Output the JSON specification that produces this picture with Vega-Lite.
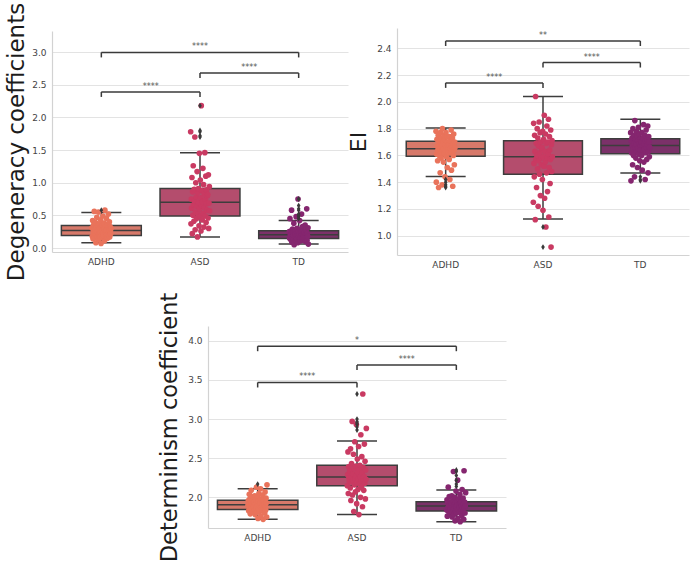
{
"$schema": "https://vega.github.io/schema/vega-lite/v6.json",
"background": "white",
"padding": {"left": 5, "top": 2, "right": 5, "bottom": 5},
"config": {
  "view": {"stroke": null},
  "font": "DejaVu Sans",
  "axis": {"labelFont": "DejaVu Sans", "titleFont": "DejaVu Sans", "labelColor": "#444444", "labelFontSize": 9, "labelOverlap": false, "ticks": false, "domainColor": "#d2d2d2", "domainWidth": 1.2, "gridColor": "#e3e3e3", "gridWidth": 1.2, "titleFontWeight": "normal", "titleColor": "#1c1c1c", "titleFontSize": 22},
  "axisX": {"grid": false, "labelAngle": 0, "labelPadding": 5},
  "axisY": {"labelPadding": 6, "titlePadding": 6}
},
"datasets": {
  "box": [
    {"p": "deg", "g": "ADHD", "lo": 0.08, "q1": 0.19, "med": 0.27, "q3": 0.345, "hi": 0.545},
    {"p": "deg", "g": "ASD", "lo": 0.17, "q1": 0.49, "med": 0.70, "q3": 0.91, "hi": 1.46},
    {"p": "deg", "g": "TD", "lo": 0.06, "q1": 0.147, "med": 0.205, "q3": 0.265, "hi": 0.42},
    {"p": "ei", "g": "ADHD", "lo": 1.443, "q1": 1.593, "med": 1.65, "q3": 1.705, "hi": 1.805},
    {"p": "ei", "g": "ASD", "lo": 1.125, "q1": 1.46, "med": 1.59, "q3": 1.71, "hi": 2.04},
    {"p": "ei", "g": "TD", "lo": 1.468, "q1": 1.613, "med": 1.675, "q3": 1.725, "hi": 1.87},
    {"p": "det", "g": "ADHD", "lo": 1.722, "q1": 1.846, "med": 1.906, "q3": 1.962, "hi": 2.11},
    {"p": "det", "g": "ASD", "lo": 1.78, "q1": 2.15, "med": 2.26, "q3": 2.41, "hi": 2.72},
    {"p": "det", "g": "TD", "lo": 1.69, "q1": 1.825, "med": 1.89, "q3": 1.945, "hi": 2.095}
  ],
  "out": [
    {"p": "deg", "g": "ADHD", "v": 0.58},
    {"p": "deg", "g": "ASD", "v": 1.70}, {"p": "deg", "g": "ASD", "v": 1.72}, {"p": "deg", "g": "ASD", "v": 1.78}, {"p": "deg", "g": "ASD", "v": 1.80}, {"p": "deg", "g": "ASD", "v": 2.18},
    {"p": "deg", "g": "TD", "v": 0.45}, {"p": "deg", "g": "TD", "v": 0.48}, {"p": "deg", "g": "TD", "v": 0.50}, {"p": "deg", "g": "TD", "v": 0.52}, {"p": "deg", "g": "TD", "v": 0.58}, {"p": "deg", "g": "TD", "v": 0.60}, {"p": "deg", "g": "TD", "v": 0.65}, {"p": "deg", "g": "TD", "v": 0.75},
    {"p": "ei", "g": "ADHD", "v": 1.36}, {"p": "ei", "g": "ADHD", "v": 1.37}, {"p": "ei", "g": "ADHD", "v": 1.38}, {"p": "ei", "g": "ADHD", "v": 1.40}, {"p": "ei", "g": "ADHD", "v": 1.42},
    {"p": "ei", "g": "ASD", "v": 1.065}, {"p": "ei", "g": "ASD", "v": 0.915},
    {"p": "ei", "g": "TD", "v": 1.41}, {"p": "ei", "g": "TD", "v": 1.42}, {"p": "ei", "g": "TD", "v": 1.44},
    {"p": "det", "g": "ADHD", "v": 2.17},
    {"p": "det", "g": "ASD", "v": 2.86}, {"p": "det", "g": "ASD", "v": 2.90}, {"p": "det", "g": "ASD", "v": 2.93}, {"p": "det", "g": "ASD", "v": 2.95}, {"p": "det", "g": "ASD", "v": 2.97}, {"p": "det", "g": "ASD", "v": 3.00}, {"p": "det", "g": "ASD", "v": 3.32},
    {"p": "det", "g": "TD", "v": 2.14}, {"p": "det", "g": "TD", "v": 2.17}, {"p": "det", "g": "TD", "v": 2.22}, {"p": "det", "g": "TD", "v": 2.28}, {"p": "det", "g": "TD", "v": 2.33}, {"p": "det", "g": "TD", "v": 2.35}
  ],
  "sig": [
    {"p": "deg", "g1": "ADHD", "g2": "ASD", "mid": "ASD", "adj": true, "y": 2.39, "t": "****"},
    {"p": "deg", "g1": "ASD", "g2": "TD", "mid": "TD", "adj": true, "y": 2.68, "t": "****"},
    {"p": "deg", "g1": "ADHD", "g2": "TD", "mid": "ASD", "adj": false, "y": 2.995, "t": "****"},
    {"p": "ei", "g1": "ADHD", "g2": "ASD", "mid": "ASD", "adj": true, "y": 2.142, "t": "****"},
    {"p": "ei", "g1": "ASD", "g2": "TD", "mid": "TD", "adj": true, "y": 2.294, "t": "****"},
    {"p": "ei", "g1": "ADHD", "g2": "TD", "mid": "ASD", "adj": false, "y": 2.455, "t": "**"},
    {"p": "det", "g1": "ADHD", "g2": "ASD", "mid": "ASD", "adj": true, "y": 3.467, "t": "****"},
    {"p": "det", "g1": "ASD", "g2": "TD", "mid": "TD", "adj": true, "y": 3.69, "t": "****"},
    {"p": "det", "g1": "ADHD", "g2": "TD", "mid": "ASD", "adj": false, "y": 3.93, "t": "*"}
  ],
  "pts": [
    {"g":"ADHD","i":0,"d":0.31,"e":1.78,"m":1.90},{"g":"ADHD","i":1,"d":0.18,"e":1.40,"m":1.96},{"g":"ADHD","i":2,"d":0.42,"e":1.61,"m":1.83},{"g":"ADHD","i":3,"d":0.14,"e":1.72,"m":1.91},{"g":"ADHD","i":4,"d":0.26,"e":1.67,"m":2.04},
    {"g":"ADHD","i":5,"d":0.35,"e":1.56,"m":1.86},{"g":"ADHD","i":6,"d":0.22,"e":1.64,"m":1.98},{"g":"ADHD","i":7,"d":0.56,"e":1.75,"m":1.79},{"g":"ADHD","i":8,"d":0.16,"e":1.36,"m":1.95},{"g":"ADHD","i":9,"d":0.29,"e":1.69,"m":1.89},
    {"g":"ADHD","i":10,"d":0.23,"e":1.60,"m":2.09},{"g":"ADHD","i":11,"d":0.39,"e":1.71,"m":1.85},{"g":"ADHD","i":12,"d":0.08,"e":1.65,"m":1.92},{"g":"ADHD","i":13,"d":0.32,"e":1.47,"m":2.01},{"g":"ADHD","i":14,"d":0.20,"e":1.77,"m":1.82},
    {"g":"ADHD","i":15,"d":0.47,"e":1.63,"m":1.96},{"g":"ADHD","i":16,"d":0.25,"e":1.58,"m":1.90},{"g":"ADHD","i":17,"d":0.17,"e":1.73,"m":1.88},{"g":"ADHD","i":18,"d":0.34,"e":1.67,"m":1.94},{"g":"ADHD","i":19,"d":0.28,"e":1.38,"m":1.94},
    {"g":"ADHD","i":20,"d":0.55,"e":1.80,"m":1.84},{"g":"ADHD","i":21,"d":0.13,"e":1.64,"m":2.02},{"g":"ADHD","i":22,"d":0.21,"e":1.70,"m":1.78},{"g":"ADHD","i":23,"d":0.37,"e":1.55,"m":1.91},{"g":"ADHD","i":24,"d":0.30,"e":1.65,"m":1.97},
    {"g":"ADHD","i":25,"d":0.18,"e":1.75,"m":1.87},{"g":"ADHD","i":26,"d":0.24,"e":1.61,"m":2.13},{"g":"ADHD","i":27,"d":0.43,"e":1.72,"m":1.81},{"g":"ADHD","i":28,"d":0.07,"e":1.44,"m":1.93},{"g":"ADHD","i":29,"d":0.32,"e":1.68,"m":1.89},
    {"g":"ADHD","i":30,"d":0.20,"e":1.63,"m":2.00},{"g":"ADHD","i":31,"d":0.34,"e":1.77,"m":1.73},{"g":"ADHD","i":32,"d":0.27,"e":1.59,"m":1.95},{"g":"ADHD","i":33,"d":0.16,"e":1.66,"m":1.85},{"g":"ADHD","i":34,"d":0.49,"e":1.74,"m":2.05},
    {"g":"ADHD","i":35,"d":0.23,"e":1.51,"m":1.90},{"g":"ADHD","i":36,"d":0.19,"e":1.70,"m":1.82},{"g":"ADHD","i":37,"d":0.38,"e":1.65,"m":1.96},{"g":"ADHD","i":38,"d":0.29,"e":1.62,"m":1.92},{"g":"ADHD","i":39,"d":0.11,"e":1.68,"m":2.11},
    {"g":"ADHD","i":40,"d":0.58,"e":1.68,"m":1.76},{"g":"ADHD","i":41,"d":0.25,"e":1.57,"m":1.87},{"g":"ADHD","i":42,"d":0.33,"e":1.74,"m":1.98},{"g":"ADHD","i":43,"d":0.18,"e":1.42,"m":1.93},{"g":"ADHD","i":44,"d":0.27,"e":1.65,"m":1.83},
    {"g":"ADHD","i":45,"d":0.45,"e":1.71,"m":1.89},{"g":"ADHD","i":46,"d":0.21,"e":1.62,"m":2.03},{"g":"ADHD","i":47,"d":0.36,"e":1.79,"m":1.72},{"g":"ADHD","i":48,"d":0.15,"e":1.49,"m":1.95},{"g":"ADHD","i":49,"d":0.31,"e":1.67,"m":1.86},
    {"g":"ADHD","i":50,"d":0.24,"e":1.63,"m":1.97},{"g":"ADHD","i":51,"d":0.52,"e":1.73,"m":1.91},{"g":"ADHD","i":52,"d":0.19,"e":1.37,"m":1.80},{"g":"ADHD","i":53,"d":0.28,"e":1.69,"m":2.07},{"g":"ADHD","i":54,"d":0.40,"e":1.60,"m":1.88},
    {"g":"ADHD","i":55,"d":0.17,"e":1.76,"m":1.84},{"g":"ADHD","i":56,"d":0.33,"e":1.64,"m":1.99},{"g":"ADHD","i":57,"d":0.26,"e":1.53,"m":1.93},{"g":"ADHD","i":58,"d":0.22,"e":1.70,"m":1.75},{"g":"ADHD","i":59,"d":0.30,"e":1.66,"m":2.16},
    {"g":"ASD","i":0,"d":1.78,"e":1.25,"m":2.15},{"g":"ASD","i":1,"d":0.37,"e":1.84,"m":2.29},{"g":"ASD","i":2,"d":0.75,"e":1.54,"m":2.58},{"g":"ASD","i":3,"d":0.61,"e":1.44,"m":2.05},{"g":"ASD","i":4,"d":1.08,"e":1.75,"m":2.39},
    {"g":"ASD","i":5,"d":0.22,"e":1.63,"m":2.25},{"g":"ASD","i":6,"d":0.86,"e":1.12,"m":2.21},{"g":"ASD","i":7,"d":0.50,"e":2.04,"m":2.33},{"g":"ASD","i":8,"d":1.26,"e":1.57,"m":2.34},{"g":"ASD","i":9,"d":0.66,"e":1.69,"m":2.12},
    {"g":"ASD","i":10,"d":0.41,"e":1.36,"m":2.62},{"g":"ASD","i":11,"d":0.90,"e":1.60,"m":1.96},{"g":"ASD","i":12,"d":0.72,"e":1.80,"m":2.25},{"g":"ASD","i":13,"d":1.70,"e":1.50,"m":2.43},{"g":"ASD","i":14,"d":0.28,"e":1.73,"m":2.20},
    {"g":"ASD","i":15,"d":0.55,"e":1.22,"m":2.97},{"g":"ASD","i":16,"d":1.00,"e":1.67,"m":2.03},{"g":"ASD","i":17,"d":0.78,"e":1.56,"m":2.30},{"g":"ASD","i":18,"d":0.45,"e":1.85,"m":2.22},{"g":"ASD","i":19,"d":0.64,"e":1.46,"m":2.55},
    {"g":"ASD","i":20,"d":1.17,"e":1.62,"m":1.82},{"g":"ASD","i":21,"d":0.17,"e":1.77,"m":2.37},{"g":"ASD","i":22,"d":0.85,"e":1.30,"m":2.16},{"g":"ASD","i":23,"d":0.52,"e":1.70,"m":2.71},{"g":"ASD","i":24,"d":0.91,"e":1.58,"m":2.24},
    {"g":"ASD","i":25,"d":0.70,"e":1.53,"m":2.07},{"g":"ASD","i":26,"d":0.34,"e":1.65,"m":2.40},{"g":"ASD","i":27,"d":1.45,"e":1.66,"m":2.28},{"g":"ASD","i":28,"d":0.60,"e":1.42,"m":2.93},{"g":"ASD","i":29,"d":0.48,"e":1.78,"m":1.92},
    {"g":"ASD","i":30,"d":1.04,"e":1.19,"m":2.19},{"g":"ASD","i":31,"d":0.77,"e":1.59,"m":2.49},{"g":"ASD","i":32,"d":0.26,"e":1.72,"m":2.32},{"g":"ASD","i":33,"d":2.18,"e":1.52,"m":2.10},{"g":"ASD","i":34,"d":0.65,"e":1.90,"m":2.23},
    {"g":"ASD","i":35,"d":0.88,"e":1.28,"m":2.65},{"g":"ASD","i":36,"d":0.43,"e":1.63,"m":1.78},{"g":"ASD","i":37,"d":0.71,"e":1.55,"m":2.36},{"g":"ASD","i":38,"d":1.22,"e":1.76,"m":2.17},{"g":"ASD","i":39,"d":0.53,"e":1.065,"m":2.41},
    {"g":"ASD","i":40,"d":0.97,"e":1.69,"m":2.26},{"g":"ASD","i":41,"d":0.32,"e":1.47,"m":2.00},{"g":"ASD","i":42,"d":0.83,"e":1.82,"m":2.80},{"g":"ASD","i":43,"d":0.62,"e":1.58,"m":2.21},{"g":"ASD","i":44,"d":1.46,"e":1.33,"m":2.13},
    {"g":"ASD","i":45,"d":0.49,"e":1.70,"m":2.52},{"g":"ASD","i":46,"d":0.74,"e":1.61,"m":2.31},{"g":"ASD","i":47,"d":1.10,"e":1.87,"m":1.88},{"g":"ASD","i":48,"d":0.39,"e":1.14,"m":3.32},{"g":"ASD","i":49,"d":0.89,"e":1.51,"m":2.24},
    {"g":"ASD","i":50,"d":0.68,"e":1.74,"m":2.38},{"g":"ASD","i":51,"d":0.58,"e":1.64,"m":2.09},{"g":"ASD","i":52,"d":0.80,"e":1.39,"m":2.27},{"g":"ASD","i":53,"d":0.82,"e":1.57,"m":2.68},{"g":"ASD","i":54,"d":0.46,"e":1.79,"m":2.18},
    {"g":"ASD","i":55,"d":1.12,"e":0.915,"m":2.46},{"g":"ASD","i":56,"d":0.30,"e":1.68,"m":1.98},{"g":"ASD","i":57,"d":0.69,"e":1.48,"m":2.35},{"g":"ASD","i":58,"d":0.94,"e":1.71,"m":2.23},{"g":"ASD","i":59,"d":0.57,"e":1.59,"m":2.88},
    {"g":"TD","i":0,"d":0.25,"e":1.77,"m":1.84},{"g":"TD","i":1,"d":0.15,"e":1.41,"m":1.97},{"g":"TD","i":2,"d":0.45,"e":1.71,"m":1.76},{"g":"TD","i":3,"d":0.20,"e":1.62,"m":1.93},{"g":"TD","i":4,"d":0.13,"e":1.73,"m":1.87},
    {"g":"TD","i":5,"d":0.26,"e":1.67,"m":2.13},{"g":"TD","i":6,"d":0.21,"e":1.53,"m":1.82},{"g":"TD","i":7,"d":0.58,"e":1.80,"m":1.90},{"g":"TD","i":8,"d":0.09,"e":1.65,"m":2.01},{"g":"TD","i":9,"d":0.17,"e":1.60,"m":1.79},
    {"g":"TD","i":10,"d":0.29,"e":1.75,"m":1.94},{"g":"TD","i":11,"d":0.23,"e":1.69,"m":1.88},{"g":"TD","i":12,"d":0.14,"e":1.44,"m":1.85},{"g":"TD","i":13,"d":0.19,"e":1.86,"m":1.92},{"g":"TD","i":14,"d":0.38,"e":1.66,"m":1.92},
    {"g":"TD","i":15,"d":0.05,"e":1.72,"m":1.81},{"g":"TD","i":16,"d":0.24,"e":1.58,"m":2.02},{"g":"TD","i":17,"d":0.16,"e":1.68,"m":1.75},{"g":"TD","i":18,"d":0.27,"e":1.78,"m":1.88},{"g":"TD","i":19,"d":0.21,"e":1.63,"m":1.96},
    {"g":"TD","i":20,"d":0.11,"e":1.74,"m":1.85},{"g":"TD","i":21,"d":0.48,"e":1.51,"m":2.33},{"g":"TD","i":22,"d":0.18,"e":1.71,"m":1.78},{"g":"TD","i":23,"d":0.14,"e":1.65,"m":1.90},{"g":"TD","i":24,"d":0.30,"e":1.81,"m":1.86},
    {"g":"TD","i":25,"d":0.22,"e":1.61,"m":2.00},{"g":"TD","i":26,"d":0.08,"e":1.69,"m":1.70},{"g":"TD","i":27,"d":0.75,"e":1.76,"m":1.93},{"g":"TD","i":28,"d":0.19,"e":1.56,"m":1.83},{"g":"TD","i":29,"d":0.25,"e":1.72,"m":2.08},
    {"g":"TD","i":30,"d":0.13,"e":1.67,"m":1.88},{"g":"TD","i":31,"d":0.21,"e":1.64,"m":1.80},{"g":"TD","i":32,"d":0.42,"e":1.70,"m":1.95},{"g":"TD","i":33,"d":0.16,"e":1.70,"m":1.90},{"g":"TD","i":34,"d":0.28,"e":1.60,"m":2.22},
    {"g":"TD","i":35,"d":0.11,"e":1.77,"m":1.73},{"g":"TD","i":36,"d":0.24,"e":1.49,"m":1.84},{"g":"TD","i":37,"d":0.19,"e":1.67,"m":1.98},{"g":"TD","i":38,"d":0.52,"e":1.73,"m":1.91},{"g":"TD","i":39,"d":0.15,"e":1.64,"m":1.81},
    {"g":"TD","i":40,"d":0.22,"e":1.83,"m":1.87},{"g":"TD","i":41,"d":0.33,"e":1.55,"m":2.04},{"g":"TD","i":42,"d":0.12,"e":1.69,"m":1.69},{"g":"TD","i":43,"d":0.26,"e":1.65,"m":1.93},{"g":"TD","i":44,"d":0.20,"e":1.75,"m":1.83},
    {"g":"TD","i":45,"d":0.17,"e":1.42,"m":1.95},{"g":"TD","i":46,"d":0.23,"e":1.71,"m":1.89},{"g":"TD","i":47,"d":0.24,"e":1.62,"m":1.77},{"g":"TD","i":48,"d":0.14,"e":1.79,"m":2.10},{"g":"TD","i":49,"d":0.35,"e":1.66,"m":1.86},
    {"g":"TD","i":50,"d":0.10,"e":1.57,"m":1.82},{"g":"TD","i":51,"d":0.20,"e":1.72,"m":1.99},{"g":"TD","i":52,"d":0.27,"e":1.68,"m":1.91},{"g":"TD","i":53,"d":0.17,"e":1.82,"m":1.72},{"g":"TD","i":54,"d":0.60,"e":1.47,"m":2.34},
    {"g":"TD","i":55,"d":0.12,"e":1.63,"m":1.87},{"g":"TD","i":56,"d":0.22,"e":1.74,"m":1.94},{"g":"TD","i":57,"d":0.18,"e":1.70,"m":1.80},{"g":"TD","i":58,"d":0.31,"e":1.59,"m":1.89},{"g":"TD","i":59,"d":0.06,"e":1.66,"m":2.06}
  ]
},
"spacing": 11,
"vconcat": [
 {"bounds": "flush", "spacing": 49, "center": true, "hconcat": [
  {"width": 296, "height": 221, "resolve": {"scale": {"xOffset": "independent"}}, "layer": [
   {"data": {"name": "box"}, "transform": [{"filter": "datum.p === 'deg'"}], "mark": {"type": "rule", "color": "#3d3d3d", "strokeWidth": 1.5},
    "encoding": {"x": {"field": "g", "type": "nominal", "scale": {"domain": ["ADHD", "ASD", "TD"], "paddingInner": 0, "paddingOuter": 0}, "axis": {"title": null, "labelAngle": 0}},
      "y": {"field": "lo", "type": "quantitative", "scale": {"domain": [-0.061, 3.323], "nice": false, "zero": false}, "axis": {"title": "Degeneracy coefficients", "titleFontSize": 23, "titlePadding": 3, "values": [0, 0.5, 1, 1.5, 2, 2.5, 3], "format": ".1f"}},
      "y2": {"field": "hi"}}},
   {"data": {"name": "box"}, "transform": [{"filter": "datum.p === 'deg'"}], "mark": {"type": "bar", "width": {"band": 0.81}, "stroke": "#3d3d3d", "strokeWidth": 1.5},
    "encoding": {"x": {"field": "g", "type": "nominal"}, "y": {"field": "q1", "type": "quantitative", "axis": {"title": "Degeneracy coefficients", "titleFontSize": 23, "titlePadding": 3, "values": [0, 0.5, 1, 1.5, 2, 2.5, 3], "format": ".1f"}}, "y2": {"field": "q3"},
      "fill": {"field": "g", "type": "nominal", "scale": {"domain": ["ADHD", "ASD", "TD"], "range": ["#d7796a", "#b44d6d", "#7b3169"]}, "legend": null}}},
   {"data": {"name": "box"}, "transform": [{"filter": "datum.p === 'deg'"}], "mark": {"type": "tick", "size": 80, "thickness": 1.5, "color": "#3d3d3d", "opacity": 1},
    "encoding": {"x": {"field": "g", "type": "nominal"}, "y": {"field": "med", "type": "quantitative", "axis": {"title": "Degeneracy coefficients", "titleFontSize": 23, "titlePadding": 3, "values": [0, 0.5, 1, 1.5, 2, 2.5, 3], "format": ".1f"}}}},
   {"data": {"name": "box"}, "transform": [{"filter": "datum.p === 'deg'"}], "mark": {"type": "tick", "size": 40, "thickness": 1.5, "color": "#3d3d3d", "opacity": 1},
    "encoding": {"x": {"field": "g", "type": "nominal"}, "y": {"field": "lo", "type": "quantitative", "axis": {"title": "Degeneracy coefficients", "titleFontSize": 23, "titlePadding": 3, "values": [0, 0.5, 1, 1.5, 2, 2.5, 3], "format": ".1f"}}}},
   {"data": {"name": "box"}, "transform": [{"filter": "datum.p === 'deg'"}], "mark": {"type": "tick", "size": 40, "thickness": 1.5, "color": "#3d3d3d", "opacity": 1},
    "encoding": {"x": {"field": "g", "type": "nominal"}, "y": {"field": "hi", "type": "quantitative", "axis": {"title": "Degeneracy coefficients", "titleFontSize": 23, "titlePadding": 3, "values": [0, 0.5, 1, 1.5, 2, 2.5, 3], "format": ".1f"}}}},
   {"data": {"name": "pts"}, "mark": {"type": "circle", "size": 32, "opacity": 1},
    "encoding": {"x": {"field": "g", "type": "nominal"}, "xOffset": {"field": "i", "type": "quantitative", "scale": {"domain": [0, 59], "range": [40, 59]}},
      "y": {"field": "d", "type": "quantitative", "axis": {"title": "Degeneracy coefficients", "titleFontSize": 23, "titlePadding": 3, "values": [0, 0.5, 1, 1.5, 2, 2.5, 3], "format": ".1f"}},
      "color": {"field": "g", "type": "nominal", "scale": {"domain": ["ADHD", "ASD", "TD"], "range": ["#e9735b", "#c93a62", "#85266f"]}, "legend": null}}},
   {"data": {"name": "out"}, "transform": [{"filter": "datum.p === 'deg'"}], "mark": {"type": "point", "shape": "M0,-1L0.62,0L0,1L-0.62,0Z", "filled": true, "size": 34, "color": "#3a3a3a", "opacity": 1},
    "encoding": {"x": {"field": "g", "type": "nominal"}, "y": {"field": "v", "type": "quantitative", "axis": {"title": "Degeneracy coefficients", "titleFontSize": 23, "titlePadding": 3, "values": [0, 0.5, 1, 1.5, 2, 2.5, 3], "format": ".1f"}}}},
   {"data": {"name": "sig"}, "transform": [{"filter": "datum.p === 'deg'"}], "mark": {"type": "rule", "color": "#3a3a3a", "strokeWidth": 1.5},
    "encoding": {"x": {"field": "g1", "type": "nominal"}, "x2": {"field": "g2"}, "y": {"field": "y", "type": "quantitative", "axis": {"title": "Degeneracy coefficients", "titleFontSize": 23, "titlePadding": 3, "values": [0, 0.5, 1, 1.5, 2, 2.5, 3], "format": ".1f"}}}},
   {"data": {"name": "sig"}, "transform": [{"filter": "datum.p === 'deg'"}], "mark": {"type": "tick", "orient": "vertical", "size": 5, "thickness": 1.5, "yOffset": 2.5, "color": "#3a3a3a", "opacity": 1},
    "encoding": {"x": {"field": "g1", "type": "nominal"}, "y": {"field": "y", "type": "quantitative", "axis": {"title": "Degeneracy coefficients", "titleFontSize": 23, "titlePadding": 3, "values": [0, 0.5, 1, 1.5, 2, 2.5, 3], "format": ".1f"}}}},
   {"data": {"name": "sig"}, "transform": [{"filter": "datum.p === 'deg'"}], "mark": {"type": "tick", "orient": "vertical", "size": 5, "thickness": 1.5, "yOffset": 2.5, "color": "#3a3a3a", "opacity": 1},
    "encoding": {"x": {"field": "g2", "type": "nominal"}, "y": {"field": "y", "type": "quantitative", "axis": {"title": "Degeneracy coefficients", "titleFontSize": 23, "titlePadding": 3, "values": [0, 0.5, 1, 1.5, 2, 2.5, 3], "format": ".1f"}}}},
   {"data": {"name": "sig"}, "transform": [{"filter": "datum.p === 'deg' && datum.adj"}], "mark": {"type": "text", "fontSize": 8, "color": "#555555", "baseline": "middle", "dy": -5},
    "encoding": {"x": {"field": "mid", "type": "nominal", "bandPosition": 0}, "y": {"field": "y", "type": "quantitative", "axis": {"title": "Degeneracy coefficients", "titleFontSize": 23, "titlePadding": 3, "values": [0, 0.5, 1, 1.5, 2, 2.5, 3], "format": ".1f"}}, "text": {"field": "t"}}},
   {"data": {"name": "sig"}, "transform": [{"filter": "datum.p === 'deg' && !datum.adj"}], "mark": {"type": "text", "fontSize": 8, "color": "#555555", "baseline": "middle", "dy": -5},
    "encoding": {"x": {"field": "mid", "type": "nominal"}, "y": {"field": "y", "type": "quantitative", "axis": {"title": "Degeneracy coefficients", "titleFontSize": 23, "titlePadding": 3, "values": [0, 0.5, 1, 1.5, 2, 2.5, 3], "format": ".1f"}}, "text": {"field": "t"}}}
  ]},
  {"width": 292, "height": 227, "resolve": {"scale": {"xOffset": "independent"}}, "layer": [
   {"data": {"name": "box"}, "transform": [{"filter": "datum.p === 'ei'"}], "mark": {"type": "rule", "color": "#3d3d3d", "strokeWidth": 1.5},
    "encoding": {"x": {"field": "g", "type": "nominal", "scale": {"domain": ["ADHD", "ASD", "TD"], "paddingInner": 0, "paddingOuter": 0}, "axis": {"title": null, "labelAngle": 0}},
      "y": {"field": "lo", "type": "quantitative", "scale": {"domain": [0.856, 2.552], "nice": false, "zero": false}, "axis": {"title": "EI", "values": [1.0, 1.2, 1.4, 1.6, 1.8, 2.0, 2.2, 2.4], "format": ".1f"}},
      "y2": {"field": "hi"}}},
   {"data": {"name": "box"}, "transform": [{"filter": "datum.p === 'ei'"}], "mark": {"type": "bar", "width": {"band": 0.81}, "stroke": "#3d3d3d", "strokeWidth": 1.5},
    "encoding": {"x": {"field": "g", "type": "nominal"}, "y": {"field": "q1", "type": "quantitative", "axis": {"title": "EI", "values": [1.0, 1.2, 1.4, 1.6, 1.8, 2.0, 2.2, 2.4], "format": ".1f"}}, "y2": {"field": "q3"},
      "fill": {"field": "g", "type": "nominal", "scale": {"domain": ["ADHD", "ASD", "TD"], "range": ["#d7796a", "#b44d6d", "#7b3169"]}, "legend": null}}},
   {"data": {"name": "box"}, "transform": [{"filter": "datum.p === 'ei'"}], "mark": {"type": "tick", "size": 79, "thickness": 1.5, "color": "#3d3d3d", "opacity": 1},
    "encoding": {"x": {"field": "g", "type": "nominal"}, "y": {"field": "med", "type": "quantitative", "axis": {"title": "EI", "values": [1.0, 1.2, 1.4, 1.6, 1.8, 2.0, 2.2, 2.4], "format": ".1f"}}}},
   {"data": {"name": "box"}, "transform": [{"filter": "datum.p === 'ei'"}], "mark": {"type": "tick", "size": 40, "thickness": 1.5, "color": "#3d3d3d", "opacity": 1},
    "encoding": {"x": {"field": "g", "type": "nominal"}, "y": {"field": "lo", "type": "quantitative", "axis": {"title": "EI", "values": [1.0, 1.2, 1.4, 1.6, 1.8, 2.0, 2.2, 2.4], "format": ".1f"}}}},
   {"data": {"name": "box"}, "transform": [{"filter": "datum.p === 'ei'"}], "mark": {"type": "tick", "size": 40, "thickness": 1.5, "color": "#3d3d3d", "opacity": 1},
    "encoding": {"x": {"field": "g", "type": "nominal"}, "y": {"field": "hi", "type": "quantitative", "axis": {"title": "EI", "values": [1.0, 1.2, 1.4, 1.6, 1.8, 2.0, 2.2, 2.4], "format": ".1f"}}}},
   {"data": {"name": "pts"}, "mark": {"type": "circle", "size": 32, "opacity": 1},
    "encoding": {"x": {"field": "g", "type": "nominal"}, "xOffset": {"field": "i", "type": "quantitative", "scale": {"domain": [0, 59], "range": [39, 58]}},
      "y": {"field": "e", "type": "quantitative", "axis": {"title": "EI", "values": [1.0, 1.2, 1.4, 1.6, 1.8, 2.0, 2.2, 2.4], "format": ".1f"}},
      "color": {"field": "g", "type": "nominal", "scale": {"domain": ["ADHD", "ASD", "TD"], "range": ["#e9735b", "#c93a62", "#85266f"]}, "legend": null}}},
   {"data": {"name": "out"}, "transform": [{"filter": "datum.p === 'ei'"}], "mark": {"type": "point", "shape": "M0,-1L0.62,0L0,1L-0.62,0Z", "filled": true, "size": 34, "color": "#3a3a3a", "opacity": 1},
    "encoding": {"x": {"field": "g", "type": "nominal"}, "y": {"field": "v", "type": "quantitative", "axis": {"title": "EI", "values": [1.0, 1.2, 1.4, 1.6, 1.8, 2.0, 2.2, 2.4], "format": ".1f"}}}},
   {"data": {"name": "sig"}, "transform": [{"filter": "datum.p === 'ei'"}], "mark": {"type": "rule", "color": "#3a3a3a", "strokeWidth": 1.5},
    "encoding": {"x": {"field": "g1", "type": "nominal"}, "x2": {"field": "g2"}, "y": {"field": "y", "type": "quantitative", "axis": {"title": "EI", "values": [1.0, 1.2, 1.4, 1.6, 1.8, 2.0, 2.2, 2.4], "format": ".1f"}}}},
   {"data": {"name": "sig"}, "transform": [{"filter": "datum.p === 'ei'"}], "mark": {"type": "tick", "orient": "vertical", "size": 5, "thickness": 1.5, "yOffset": 2.5, "color": "#3a3a3a", "opacity": 1},
    "encoding": {"x": {"field": "g1", "type": "nominal"}, "y": {"field": "y", "type": "quantitative", "axis": {"title": "EI", "values": [1.0, 1.2, 1.4, 1.6, 1.8, 2.0, 2.2, 2.4], "format": ".1f"}}}},
   {"data": {"name": "sig"}, "transform": [{"filter": "datum.p === 'ei'"}], "mark": {"type": "tick", "orient": "vertical", "size": 5, "thickness": 1.5, "yOffset": 2.5, "color": "#3a3a3a", "opacity": 1},
    "encoding": {"x": {"field": "g2", "type": "nominal"}, "y": {"field": "y", "type": "quantitative", "axis": {"title": "EI", "values": [1.0, 1.2, 1.4, 1.6, 1.8, 2.0, 2.2, 2.4], "format": ".1f"}}}},
   {"data": {"name": "sig"}, "transform": [{"filter": "datum.p === 'ei' && datum.adj"}], "mark": {"type": "text", "fontSize": 8, "color": "#555555", "baseline": "middle", "dy": -5},
    "encoding": {"x": {"field": "mid", "type": "nominal", "bandPosition": 0}, "y": {"field": "y", "type": "quantitative", "axis": {"title": "EI", "values": [1.0, 1.2, 1.4, 1.6, 1.8, 2.0, 2.2, 2.4], "format": ".1f"}}, "text": {"field": "t"}}},
   {"data": {"name": "sig"}, "transform": [{"filter": "datum.p === 'ei' && !datum.adj"}], "mark": {"type": "text", "fontSize": 8, "color": "#555555", "baseline": "middle", "dy": -5},
    "encoding": {"x": {"field": "mid", "type": "nominal"}, "y": {"field": "y", "type": "quantitative", "axis": {"title": "EI", "values": [1.0, 1.2, 1.4, 1.6, 1.8, 2.0, 2.2, 2.4], "format": ".1f"}}, "text": {"field": "t"}}}
  ]}
 ]},
 {"bounds": "flush", "spacing": 10, "hconcat": [
  {"width": 146, "height": 10, "data": {"values": []}, "mark": "point", "encoding": {}},
  {"width": 298, "height": 202, "resolve": {"scale": {"xOffset": "independent"}}, "layer": [
   {"data": {"name": "box"}, "transform": [{"filter": "datum.p === 'det'"}], "mark": {"type": "rule", "color": "#3d3d3d", "strokeWidth": 1.5},
    "encoding": {"x": {"field": "g", "type": "nominal", "scale": {"domain": ["ADHD", "ASD", "TD"], "paddingInner": 0, "paddingOuter": 0}, "axis": {"title": null, "labelAngle": 0}},
      "y": {"field": "lo", "type": "quantitative", "scale": {"domain": [1.609, 4.188], "nice": false, "zero": false}, "axis": {"title": "Determinism coefficient", "titleFontSize": 22.5, "values": [2.0, 2.5, 3.0, 3.5, 4.0], "format": ".1f"}},
      "y2": {"field": "hi"}}},
   {"data": {"name": "box"}, "transform": [{"filter": "datum.p === 'det'"}], "mark": {"type": "bar", "width": {"band": 0.81}, "stroke": "#3d3d3d", "strokeWidth": 1.5},
    "encoding": {"x": {"field": "g", "type": "nominal"}, "y": {"field": "q1", "type": "quantitative", "axis": {"title": "Determinism coefficient", "titleFontSize": 22.5, "values": [2.0, 2.5, 3.0, 3.5, 4.0], "format": ".1f"}}, "y2": {"field": "q3"},
      "fill": {"field": "g", "type": "nominal", "scale": {"domain": ["ADHD", "ASD", "TD"], "range": ["#d7796a", "#b44d6d", "#7b3169"]}, "legend": null}}},
   {"data": {"name": "box"}, "transform": [{"filter": "datum.p === 'det'"}], "mark": {"type": "tick", "size": 80, "thickness": 1.5, "color": "#3d3d3d", "opacity": 1},
    "encoding": {"x": {"field": "g", "type": "nominal"}, "y": {"field": "med", "type": "quantitative", "axis": {"title": "Determinism coefficient", "titleFontSize": 22.5, "values": [2.0, 2.5, 3.0, 3.5, 4.0], "format": ".1f"}}}},
   {"data": {"name": "box"}, "transform": [{"filter": "datum.p === 'det'"}], "mark": {"type": "tick", "size": 40, "thickness": 1.5, "color": "#3d3d3d", "opacity": 1},
    "encoding": {"x": {"field": "g", "type": "nominal"}, "y": {"field": "lo", "type": "quantitative", "axis": {"title": "Determinism coefficient", "titleFontSize": 22.5, "values": [2.0, 2.5, 3.0, 3.5, 4.0], "format": ".1f"}}}},
   {"data": {"name": "box"}, "transform": [{"filter": "datum.p === 'det'"}], "mark": {"type": "tick", "size": 40, "thickness": 1.5, "color": "#3d3d3d", "opacity": 1},
    "encoding": {"x": {"field": "g", "type": "nominal"}, "y": {"field": "hi", "type": "quantitative", "axis": {"title": "Determinism coefficient", "titleFontSize": 22.5, "values": [2.0, 2.5, 3.0, 3.5, 4.0], "format": ".1f"}}}},
   {"data": {"name": "pts"}, "mark": {"type": "circle", "size": 32, "opacity": 1},
    "encoding": {"x": {"field": "g", "type": "nominal"}, "xOffset": {"field": "i", "type": "quantitative", "scale": {"domain": [0, 59], "range": [40, 59]}},
      "y": {"field": "m", "type": "quantitative", "axis": {"title": "Determinism coefficient", "titleFontSize": 22.5, "values": [2.0, 2.5, 3.0, 3.5, 4.0], "format": ".1f"}},
      "color": {"field": "g", "type": "nominal", "scale": {"domain": ["ADHD", "ASD", "TD"], "range": ["#e9735b", "#c93a62", "#85266f"]}, "legend": null}}},
   {"data": {"name": "out"}, "transform": [{"filter": "datum.p === 'det'"}], "mark": {"type": "point", "shape": "M0,-1L0.62,0L0,1L-0.62,0Z", "filled": true, "size": 34, "color": "#3a3a3a", "opacity": 1},
    "encoding": {"x": {"field": "g", "type": "nominal"}, "y": {"field": "v", "type": "quantitative", "axis": {"title": "Determinism coefficient", "titleFontSize": 22.5, "values": [2.0, 2.5, 3.0, 3.5, 4.0], "format": ".1f"}}}},
   {"data": {"name": "sig"}, "transform": [{"filter": "datum.p === 'det'"}], "mark": {"type": "rule", "color": "#3a3a3a", "strokeWidth": 1.5},
    "encoding": {"x": {"field": "g1", "type": "nominal"}, "x2": {"field": "g2"}, "y": {"field": "y", "type": "quantitative", "axis": {"title": "Determinism coefficient", "titleFontSize": 22.5, "values": [2.0, 2.5, 3.0, 3.5, 4.0], "format": ".1f"}}}},
   {"data": {"name": "sig"}, "transform": [{"filter": "datum.p === 'det'"}], "mark": {"type": "tick", "orient": "vertical", "size": 5, "thickness": 1.5, "yOffset": 2.5, "color": "#3a3a3a", "opacity": 1},
    "encoding": {"x": {"field": "g1", "type": "nominal"}, "y": {"field": "y", "type": "quantitative", "axis": {"title": "Determinism coefficient", "titleFontSize": 22.5, "values": [2.0, 2.5, 3.0, 3.5, 4.0], "format": ".1f"}}}},
   {"data": {"name": "sig"}, "transform": [{"filter": "datum.p === 'det'"}], "mark": {"type": "tick", "orient": "vertical", "size": 5, "thickness": 1.5, "yOffset": 2.5, "color": "#3a3a3a", "opacity": 1},
    "encoding": {"x": {"field": "g2", "type": "nominal"}, "y": {"field": "y", "type": "quantitative", "axis": {"title": "Determinism coefficient", "titleFontSize": 22.5, "values": [2.0, 2.5, 3.0, 3.5, 4.0], "format": ".1f"}}}},
   {"data": {"name": "sig"}, "transform": [{"filter": "datum.p === 'det' && datum.adj"}], "mark": {"type": "text", "fontSize": 8, "color": "#555555", "baseline": "middle", "dy": -5},
    "encoding": {"x": {"field": "mid", "type": "nominal", "bandPosition": 0}, "y": {"field": "y", "type": "quantitative", "axis": {"title": "Determinism coefficient", "titleFontSize": 22.5, "values": [2.0, 2.5, 3.0, 3.5, 4.0], "format": ".1f"}}, "text": {"field": "t"}}},
   {"data": {"name": "sig"}, "transform": [{"filter": "datum.p === 'det' && !datum.adj"}], "mark": {"type": "text", "fontSize": 8, "color": "#555555", "baseline": "middle", "dy": -5},
    "encoding": {"x": {"field": "mid", "type": "nominal"}, "y": {"field": "y", "type": "quantitative", "axis": {"title": "Determinism coefficient", "titleFontSize": 22.5, "values": [2.0, 2.5, 3.0, 3.5, 4.0], "format": ".1f"}}, "text": {"field": "t"}}}
  ]}
 ]}
]
}
